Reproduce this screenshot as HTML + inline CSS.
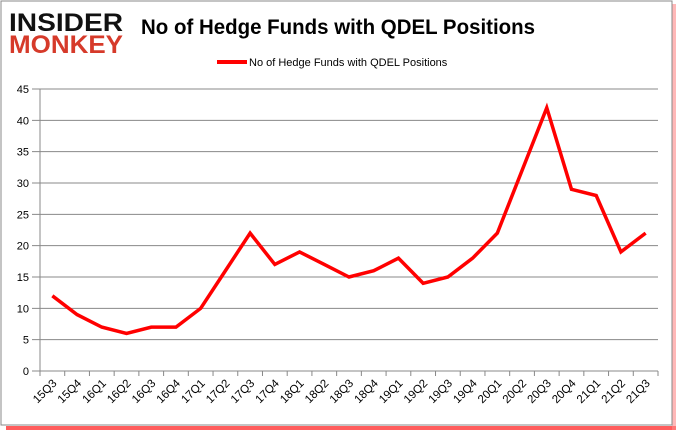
<!DOCTYPE html>
<html><head><meta charset="utf-8"><style>
body{margin:0;background:#fff;}
svg{display:block;font-family:"Liberation Sans",sans-serif;}
</style></head><body>
<svg width="678" height="431">
<rect x="6" y="426" width="670" height="4" fill="#f33" opacity="0.8"/>
<rect x="672" y="4" width="4" height="426" fill="#f88" opacity="0.6"/>
<rect x="1" y="1" width="671" height="424" fill="#fff" stroke="#888" stroke-width="1"/>
<text x="9" y="31" font-size="25" font-weight="900" fill="#111" textLength="114" lengthAdjust="spacingAndGlyphs">INSIDER</text>
<text x="9" y="53" font-size="25" font-weight="900" fill="#d63a2a" textLength="114" lengthAdjust="spacingAndGlyphs">MONKEY</text>
<text x="141" y="34" font-size="21" font-weight="bold" fill="#000" textLength="394" lengthAdjust="spacingAndGlyphs">No of Hedge Funds with QDEL Positions</text>
<line x1="217" y1="62" x2="247" y2="62" stroke="#f00" stroke-width="4"/>
<text x="249" y="66" font-size="11" fill="#000">No of Hedge Funds with QDEL Positions</text>
<g id="g"></g>
</svg>
<script>
const categories=["15Q3","15Q4","16Q1","16Q2","16Q3","16Q4","17Q1","17Q2","17Q3","17Q4","18Q1","18Q2","18Q3","18Q4","19Q1","19Q2","19Q3","19Q4","20Q1","20Q2","20Q3","20Q4","21Q1","21Q2","21Q3"];
const values=[12,9,7,6,7,7,10,16,22,17,19,17,15,16,18,14,15,18,22,32,42,29,28,19,22];
const yTicks=[0,5,10,15,20,25,30,35,40,45];
const NS="http://www.w3.org/2000/svg";
const g=document.getElementById('g');
const L=40,R=658,Y0=371,Y45=89;
const step=(R-L)/categories.length;
const xs=i=>L+step*(i+0.5);
const ys=v=>Y0-(v/45)*(Y0-Y45);
function mk(t,a){const e=document.createElementNS(NS,t);for(const k in a)e.setAttribute(k,a[k]);g.appendChild(e);return e;}
yTicks.forEach(v=>{
 const l=mk('line',{x1:L-8,x2:R,y1:ys(v),y2:ys(v),stroke:'#888','stroke-width':1});
 
 
 const t=mk('text',{x:L-11,y:ys(v)+4,'font-size':11,'text-anchor':'end',fill:'#000'});
 t.textContent=v;
 
 
});
const ax=mk('line',{x1:L,x2:L,y1:Y45,y2:Y0+5,stroke:'#888'});


for(let i=0;i<=categories.length;i++){
 const tk=mk('line',{x1:L+step*i,x2:L+step*i,y1:Y0,y2:Y0+5,stroke:'#888'});
 
 
}
categories.forEach((c,i)=>{
 const x=xs(i)+5,y=Y0+13;
 const t=mk('text',{x:x,y:y,'font-size':11.5,'text-anchor':'end',fill:'#000',transform:`rotate(-45 ${x} ${y})`});
 t.textContent=c;
 
 
});
const p=mk('polyline',{points:values.map((v,i)=>xs(i)+','+ys(v)).join(' '),fill:'none',stroke:'#f00','stroke-width':3.5,'stroke-linejoin':'miter'});


</script>
</body></html>
